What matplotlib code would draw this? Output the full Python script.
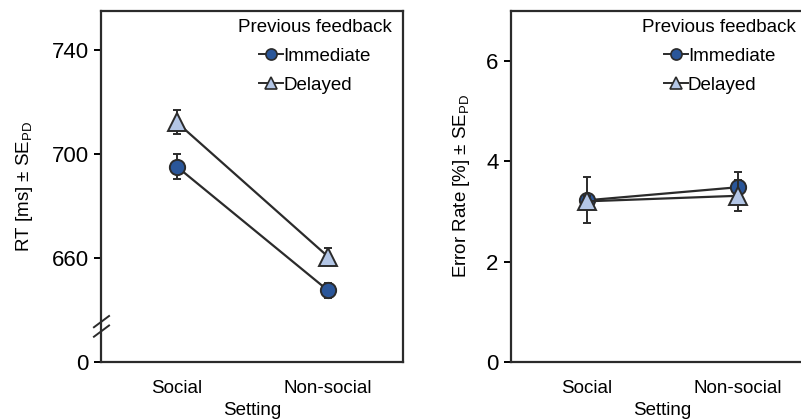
"""Two-panel RT / error-rate interaction plot (setting x previous feedback)."""

import matplotlib

matplotlib.use("Agg")
import matplotlib.pyplot as plt
from matplotlib.lines import Line2D

plt.rcParams["font.family"] = ["Liberation Sans", "DejaVu Sans"]
plt.rcParams["mathtext.default"] = "regular"

SETTINGS = ["Social", "Non-social"]
GROUPS = ["Immediate", "Delayed"]

# RT in ms (axis is broken: bottom shown as "0")
RT_IMMEDIATE = [695.0, 647.5]
RT_IMMEDIATE_ERR = [4.8, 3.0]
RT_DELAYED = [712.0, 660.5]
RT_DELAYED_ERR = [4.6, 3.4]

# error rate in %
ER_IMMEDIATE = [3.22, 3.48]
ER_IMMEDIATE_ERR = [0.46, 0.31]
ER_DELAYED = [3.20, 3.31]
ER_DELAYED_ERR = [0.10, 0.31]

RT_TICKS = [620, 660, 700, 740]
RT_TICKLABELS = ["0", "660", "700", "740"]
ER_TICKS = [0, 2, 4, 6]

DARK = "#2A5699"
LIGHT = "#B3C6E6"
EDGE = "#2b2b2b"
FS = 13.5
YFS = 16


def _panel(ax, imm, imm_err, dly, dly_err):
    x = list(range(len(SETTINGS)))
    ax.errorbar(x, imm, yerr=imm_err, color=EDGE, lw=1.6, capsize=3, capthick=1.4,
                elinewidth=1.4, marker="o", ms=11, mfc=DARK, mec=EDGE, mew=1.4, zorder=3)
    ax.errorbar(x, dly, yerr=dly_err, color=EDGE, lw=1.6, capsize=3, capthick=1.4,
                elinewidth=1.4, marker="^", ms=13, mfc=LIGHT, mec=EDGE, mew=1.4, zorder=4)
    ax.set_xlim(-0.5, 1.5)
    ax.set_xticks(x)
    ax.set_xticklabels(SETTINGS, fontsize=FS)
    ax.tick_params(axis="x", length=0, pad=13)
    ax.tick_params(axis="y", length=5, width=1.4, labelsize=YFS, pad=4, direction="out")
    ax.set_xlabel("Setting", fontsize=FS, labelpad=3.5)
    for s in ax.spines.values():
        s.set_linewidth(1.6)
        s.set_color(EDGE)


def _legend(ax, xc):
    handles = [
        Line2D([], [], color=EDGE, lw=1.4, marker="o", ms=8, mfc=DARK, mec=EDGE, mew=1.2),
        Line2D([], [], color=EDGE, lw=1.4, marker="^", ms=9, mfc=LIGHT, mec=EDGE, mew=1.2),
    ]
    ax.legend(handles, GROUPS, title="Previous feedback", loc="upper center",
              bbox_to_anchor=(xc, 1.018), frameon=False, fontsize=FS, title_fontsize=FS,
              handlelength=1.3, handletextpad=0.0, labelspacing=0.62, borderpad=0.3)


fig = plt.figure(figsize=(8.01, 4.2), dpi=100)
ax1 = fig.add_axes([0.1267, 0.138, 0.377, 0.837])
ax2 = fig.add_axes([0.638, 0.138, 0.377, 0.837])

_panel(ax1, RT_IMMEDIATE, RT_IMMEDIATE_ERR, RT_DELAYED, RT_DELAYED_ERR)
ax1.set_ylim(620, 755)
ax1.set_yticks(RT_TICKS)
ax1.set_yticklabels(RT_TICKLABELS)
ax1.set_ylabel("RT [ms] ± SE$_{PD}$", fontsize=FS, labelpad=12)
_legend(ax1, 0.706)

# axis break marks on the left spine
trans = ax1.transAxes
for yc in (0.115, 0.088):
    ax1.plot([-0.025, 0.025], [yc - 0.016, yc + 0.016], transform=trans, color=EDGE,
             lw=1.4, clip_on=False, zorder=5)

_panel(ax2, ER_IMMEDIATE, ER_IMMEDIATE_ERR, ER_DELAYED, ER_DELAYED_ERR)
ax2.set_ylim(0, 7)
ax2.set_yticks(ER_TICKS)
ax2.set_ylabel("Error Rate [%] ± SE$_{PD}$", fontsize=FS, labelpad=10)
_legend(ax2, 0.69)

fig.savefig("out.png", dpi=100)
